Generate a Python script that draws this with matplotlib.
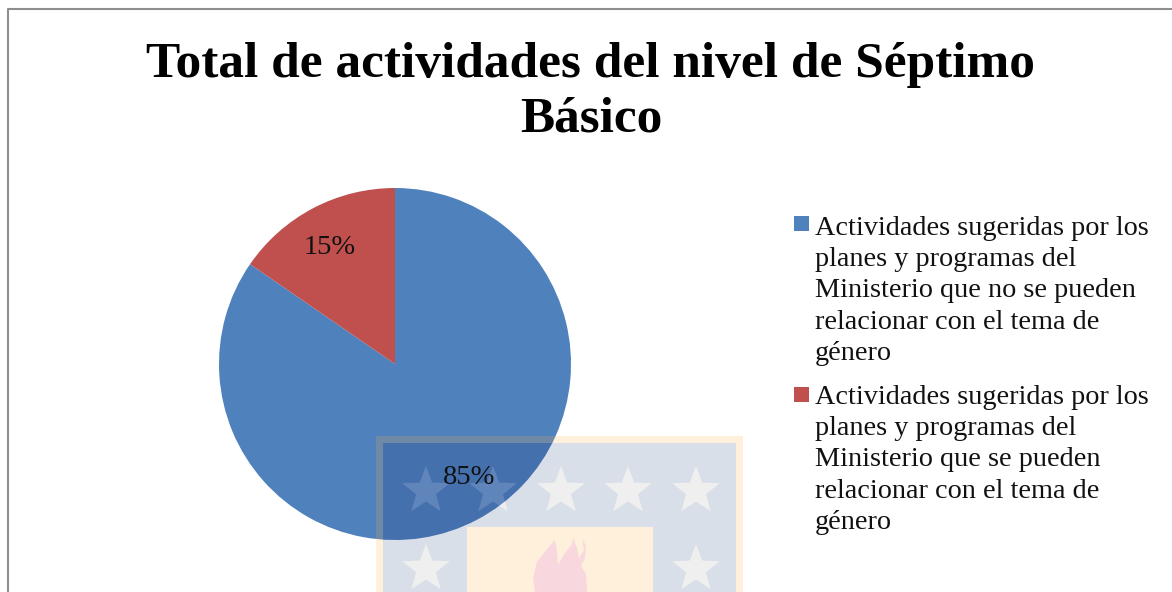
import matplotlib
matplotlib.use("Agg")
import matplotlib.pyplot as plt
import numpy as np
from matplotlib.patches import Rectangle, Polygon

W, H = 1172, 592

# datos
values = [84.6, 15.4]
colors = ["#4F81BD", "#C0504D"]
title = "Total de actividades del nivel de Séptimo\nBásico"
labels = ["Actividades sugeridas por los\nplanes y programas del\nMinisterio que no se pueden\nrelacionar con el tema de\ngénero",
          "Actividades sugeridas por los\nplanes y programas del\nMinisterio que se pueden\nrelacionar con el tema de\ngénero"]

plt.rcParams["font.family"] = ["Liberation Serif", "DejaVu Serif"]

fig = plt.figure(figsize=(W / 100, H / 100), dpi=100)
ax = fig.add_axes([0, 0, 1, 1])


# y medida desde arriba, como en la imagen
def py(y):
    return H - y


def star(cx, cy, r=25):
    ang = np.pi / 2 + np.arange(10) * np.pi / 5
    rad = np.where(np.arange(10) % 2 == 0, r, r * 0.42)
    return np.column_stack([cx + rad * np.cos(ang), py(cy) + rad * np.sin(ang)])


star_pos = [(426, 491), (493, 491), (561, 491), (628, 491), (696, 491), (426, 569), (696, 569)]
flame = [(535, 592), (533, 578), (537, 562), (547, 549), (555, 540), (557, 552), (558, 565),
         (565, 553), (572, 544), (573, 538), (577, 548), (579, 558), (584, 550), (582, 538),
         (586, 546), (585, 558), (581, 566), (586, 574), (587, 592)]

# marca de agua debajo del grafico
ax.add_patch(Rectangle((376, py(592)), 367, 156, fc="#FFF0DC", ec="none", zorder=1))
ax.add_patch(Rectangle((383, py(592)), 353, 149, fc="#D9DFE8", ec="none", zorder=1.1))
ax.add_patch(Rectangle((467, py(592)), 186, 65, fc="#FFF0DC", ec="none", zorder=1.2))
for s in star_pos:
    ax.add_patch(Polygon(star(*s), fc="#EFEFEF", ec="none", zorder=1.3))
ax.add_patch(Polygon([(x, py(y)) for x, y in flame], fc="#F8D7DF", ec="none", zorder=1.3))

wedges, texts, autotexts = ax.pie(values, colors=colors, startangle=90, counterclock=False,
                                  center=(395, py(364)), radius=176, frame=True,
                                  autopct="%.0f%%", textprops={"fontsize": 20.5, "color": "#111111"},
                                  wedgeprops={"linewidth": 0, "zorder": 2})
autotexts[0].set_position((469, py(478)))
autotexts[1].set_position((330, py(248)))
for t in autotexts:
    t.set_zorder(6)

# marca de agua encima del sector azul
band = Rectangle((376, py(592)), 7, 156, fc=(1, 0.69, 0.28), alpha=0.19, ec="none", zorder=3)
band_top = Rectangle((383, py(443)), 360, 7, fc=(1, 0.69, 0.28), alpha=0.19, ec="none", zorder=3)
shade = Rectangle((383, py(592)), 353, 149, fc="#000048", alpha=0.125, ec="none", zorder=3)
for p in [band, band_top, shade]:
    ax.add_patch(p)
    p.set_clip_path(wedges[0])
for s in star_pos:
    p = Polygon(star(*s), fc="white", alpha=0.15, ec="none", zorder=4)
    ax.add_patch(p)
    p.set_clip_path(wedges[0])

ax.set_xlim(0, W)
ax.set_ylim(0, H)
ax.set_aspect("equal")
ax.axis("off")

# borde
ax.plot([7.5, 7.5, W], [0, py(8.5), py(8.5)], color="#8E8E8E", lw=1.5, zorder=5)

ax.text(591, py(92.5), title, ha="center", va="center", fontsize=37, fontweight="bold",
        color="black", linespacing=1.23, zorder=6)

for i in range(len(labels)):
    top = [216, 387][i]
    ax.add_patch(Rectangle((794, py(top + 15)), 15, 15, fc=colors[i], ec="none", zorder=5))
    ax.text(815, py([216, 385][i]), labels[i], ha="left", va="top", fontsize=20.3,
            color="#111111", linespacing=1.325, zorder=6)

fig.savefig("out.png", dpi=100)
